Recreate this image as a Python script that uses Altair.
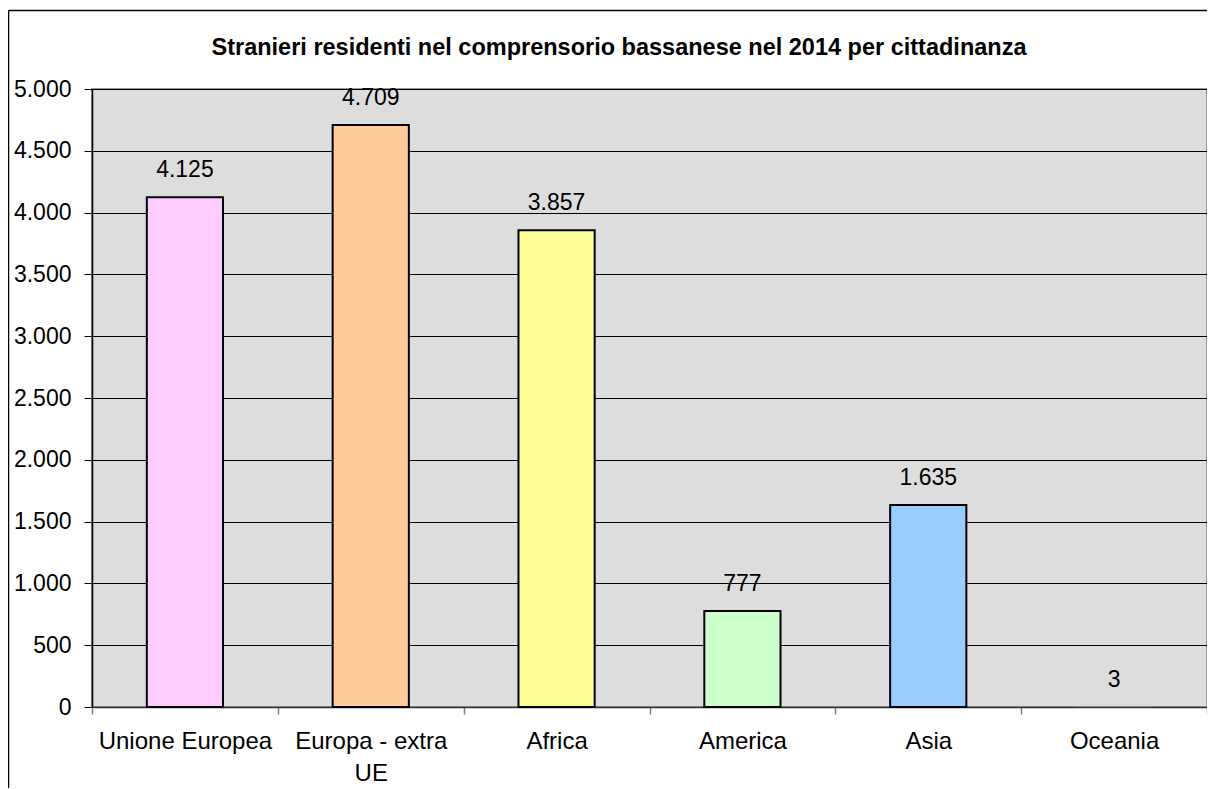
import altair as alt
import pandas as pd

categories = ["Unione Europea", "Europa - extra UE", "Africa", "America", "Asia", "Oceania"]
values = [4125, 4709, 3857, 777, 1635, 3]
bar_colors = ["#ffccff", "#ffcc99", "#ffff99", "#ccffcc", "#99ccff", "#cc99ff"]
y_ticks = list(range(0, 5001, 500))
title_text = "Stranieri residenti nel comprensorio bassanese nel 2014 per cittadinanza"

df = pd.DataFrame({"cat": categories, "val": values})

FONT = "Liberation Sans"

x_enc = alt.X(
    "cat:N",
    sort=categories,
    title=None,
    scale=alt.Scale(paddingInner=0, paddingOuter=0),
    axis=alt.Axis(
        labelAngle=0,
        labelFont=FONT,
        labelFontSize=24,
        labelColor="black",
        labelPadding=15,
        labelLineHeight=32,
        labelBaseline="top",
        labelExpr="datum.label == 'Europa - extra UE' ? ['Europa - extra', 'UE'] : datum.label",
        tickBand="extent",
        tickSize=7,
        tickColor="#808080",
        tickWidth=1.5,
        domainColor="#333333",
        domainWidth=1.5,
        grid=False,
    ),
)

y_enc = alt.Y(
    "val:Q",
    title=None,
    scale=alt.Scale(domain=[0, 5000], nice=False, zero=True),
    axis=alt.Axis(
        values=y_ticks,
        labelFont=FONT,
        labelFontSize=23,
        labelColor="black",
        labelPadding=13,
        labelExpr="replace(format(datum.value, ','), ',', '.')",
        tickSize=8,
        tickColor="black",
        tickWidth=1,
        domainColor="black",
        domainWidth=1.5,
        grid=True,
        gridColor="black",
        gridWidth=1,
        gridOpacity=1,
    ),
)

bars = alt.Chart(df).mark_bar(
    stroke="black", strokeWidth=2, width=alt.RelativeBandSize(0.41)
).encode(
    x=x_enc,
    y=y_enc,
    color=alt.Color("cat:N", scale=alt.Scale(domain=categories, range=bar_colors), legend=None),
    strokeOpacity=alt.condition("datum.val < 50", alt.value(0), alt.value(1)),
)

labels = alt.Chart(df).transform_calculate(
    lbl="replace(format(datum.val, ','), ',', '.')"
).mark_text(
    font=FONT, fontSize=23, color="black", baseline="alphabetic", align="center", dy=-20
).encode(
    x=alt.X("cat:N", sort=categories),
    y=alt.Y("val:Q"),
    text="lbl:N",
)

frame_df = pd.DataFrame({"t": [title_text]})
frame_left = alt.Chart(frame_df).mark_rule(color="black", strokeWidth=1.5).encode(
    x=alt.value(-83.5), y=alt.value(-78.5), y2=alt.value(720)
)
frame_top = alt.Chart(frame_df).mark_rule(color="black", strokeWidth=1.5).encode(
    x=alt.value(-83.5), x2=alt.value(1130), y=alt.value(-78.5)
)
title = alt.Chart(frame_df).mark_text(
    font=FONT, fontSize=23.5, fontWeight="bold", color="black", align="center", baseline="alphabetic"
).encode(
    x=alt.value(527), y=alt.value(-34), text="t:N"
)

chart = alt.layer(bars, labels, frame_left, frame_top, title).properties(
    width=1115,
    height=618,
    autosize=alt.AutoSizeParams(type="none"),
    padding={"left": 84, "top": 81, "right": 0, "bottom": 81},
).configure(
    background="white"
).configure_view(
    fill="#dddddd", stroke="#999999", strokeWidth=2
)

chart.save("out.html", embed_options={"renderer": "svg", "actions": False})
